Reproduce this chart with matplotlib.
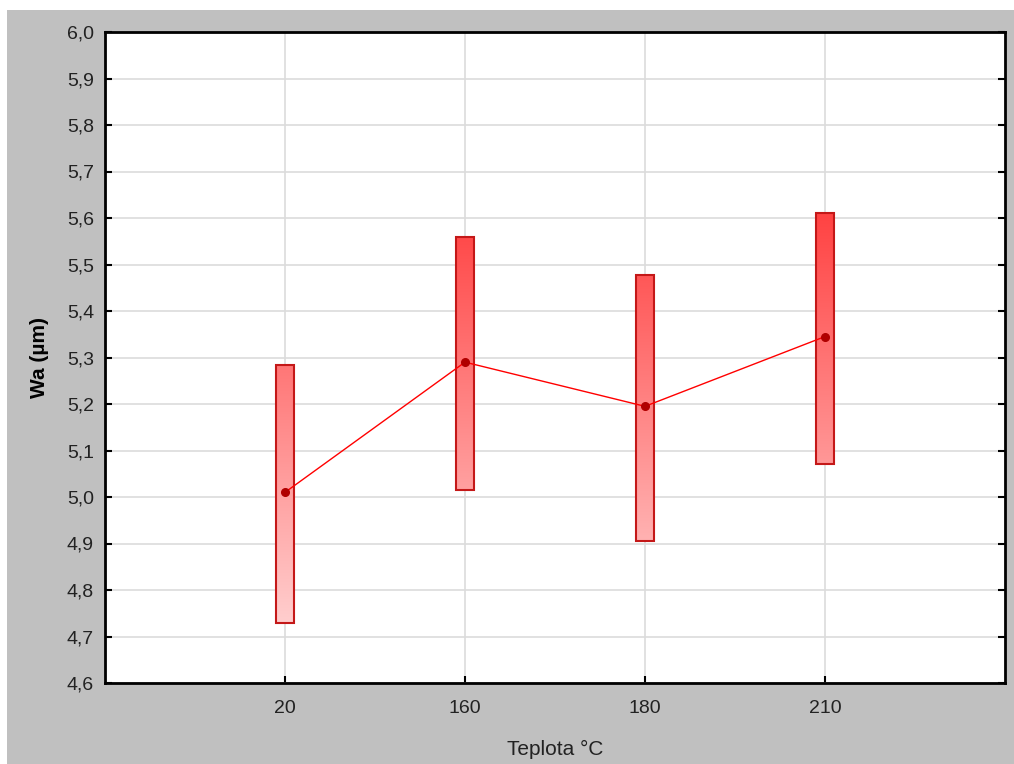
import matplotlib.pyplot as plt
import numpy as np
from matplotlib.colors import LinearSegmentedColormap
from matplotlib.patches import Rectangle

plt.rcParams['font.family'] = ['Liberation Sans', 'DejaVu Sans']

categories = ['20', '160', '180', '210']
means = [5.010, 5.290, 5.195, 5.345]
upper = [5.283, 5.559, 5.477, 5.611]
lower = [4.728, 5.014, 4.905, 5.070]
yticks = [4.6, 4.7, 4.8, 4.9, 5.0, 5.1, 5.2, 5.3, 5.4, 5.5, 5.6, 5.7, 5.8, 5.9, 6.0]

fig = plt.figure(figsize=(10.14, 7.64), dpi=100, facecolor='white')
# grey panel behind the plot, small white strip on top and left
fig.patches.append(Rectangle((7 / 1014, 0), 1, 754 / 764, transform=fig.transFigure,
                             facecolor='#c0c0c0', edgecolor='none', zorder=-1))

ax = fig.add_axes([105 / 1014, 1 - 683 / 764, 900 / 1014, 651 / 764])
ax.set_facecolor('white')

x = np.arange(len(categories))
ax.set_xlim(-1, len(categories))
ax.set_ylim(4.6, 6.0)

cmap = LinearSegmentedColormap.from_list('reds', ['#ffe2e2', '#ff3434'])
grad = np.linspace(0, 1, 256).reshape(-1, 1)
w = 0.1
for xi, lo, hi in zip(x, lower, upper):
    im = ax.imshow(grad, cmap=cmap, origin='lower', aspect='auto',
                   extent=(xi - w / 2, xi + w / 2, 4.6, 5.7), vmin=0, vmax=1, zorder=2)
    rect = Rectangle((xi - w / 2, lo), w, hi - lo, facecolor='none',
                     edgecolor='#c41818', linewidth=1.5, zorder=3)
    ax.add_patch(rect)
    im.set_clip_path(rect)

ax.plot(x, means, color='#ff0000', linewidth=1, zorder=4)
ax.plot(x, means, 'o', color='#b00000', markersize=5.5, zorder=5)

ax.set_xticks(x)
ax.set_xticklabels(categories)
ax.set_yticks(yticks)
ax.set_yticklabels([f'{v:.1f}'.replace('.', ',') for v in yticks])
ax.grid(True, color='#dcdcdc', linewidth=1.2, zorder=0)
ax.set_axisbelow(True)
ax.tick_params(axis='both', direction='in', length=5, width=1.5, labelsize=14,
               labelcolor='#222222')
ax.tick_params(axis='y', right=True, pad=8)
ax.tick_params(axis='x', pad=12)
for s in ax.spines.values():
    s.set_linewidth(2)
    s.set_color('black')

ax.set_ylabel('Wa (µm)', fontsize=15, fontweight='bold', labelpad=13)
ax.set_xlabel('Teplota °C', fontsize=15, labelpad=17, color='#222222')

fig.savefig('out.png', dpi=100, facecolor=fig.get_facecolor())
